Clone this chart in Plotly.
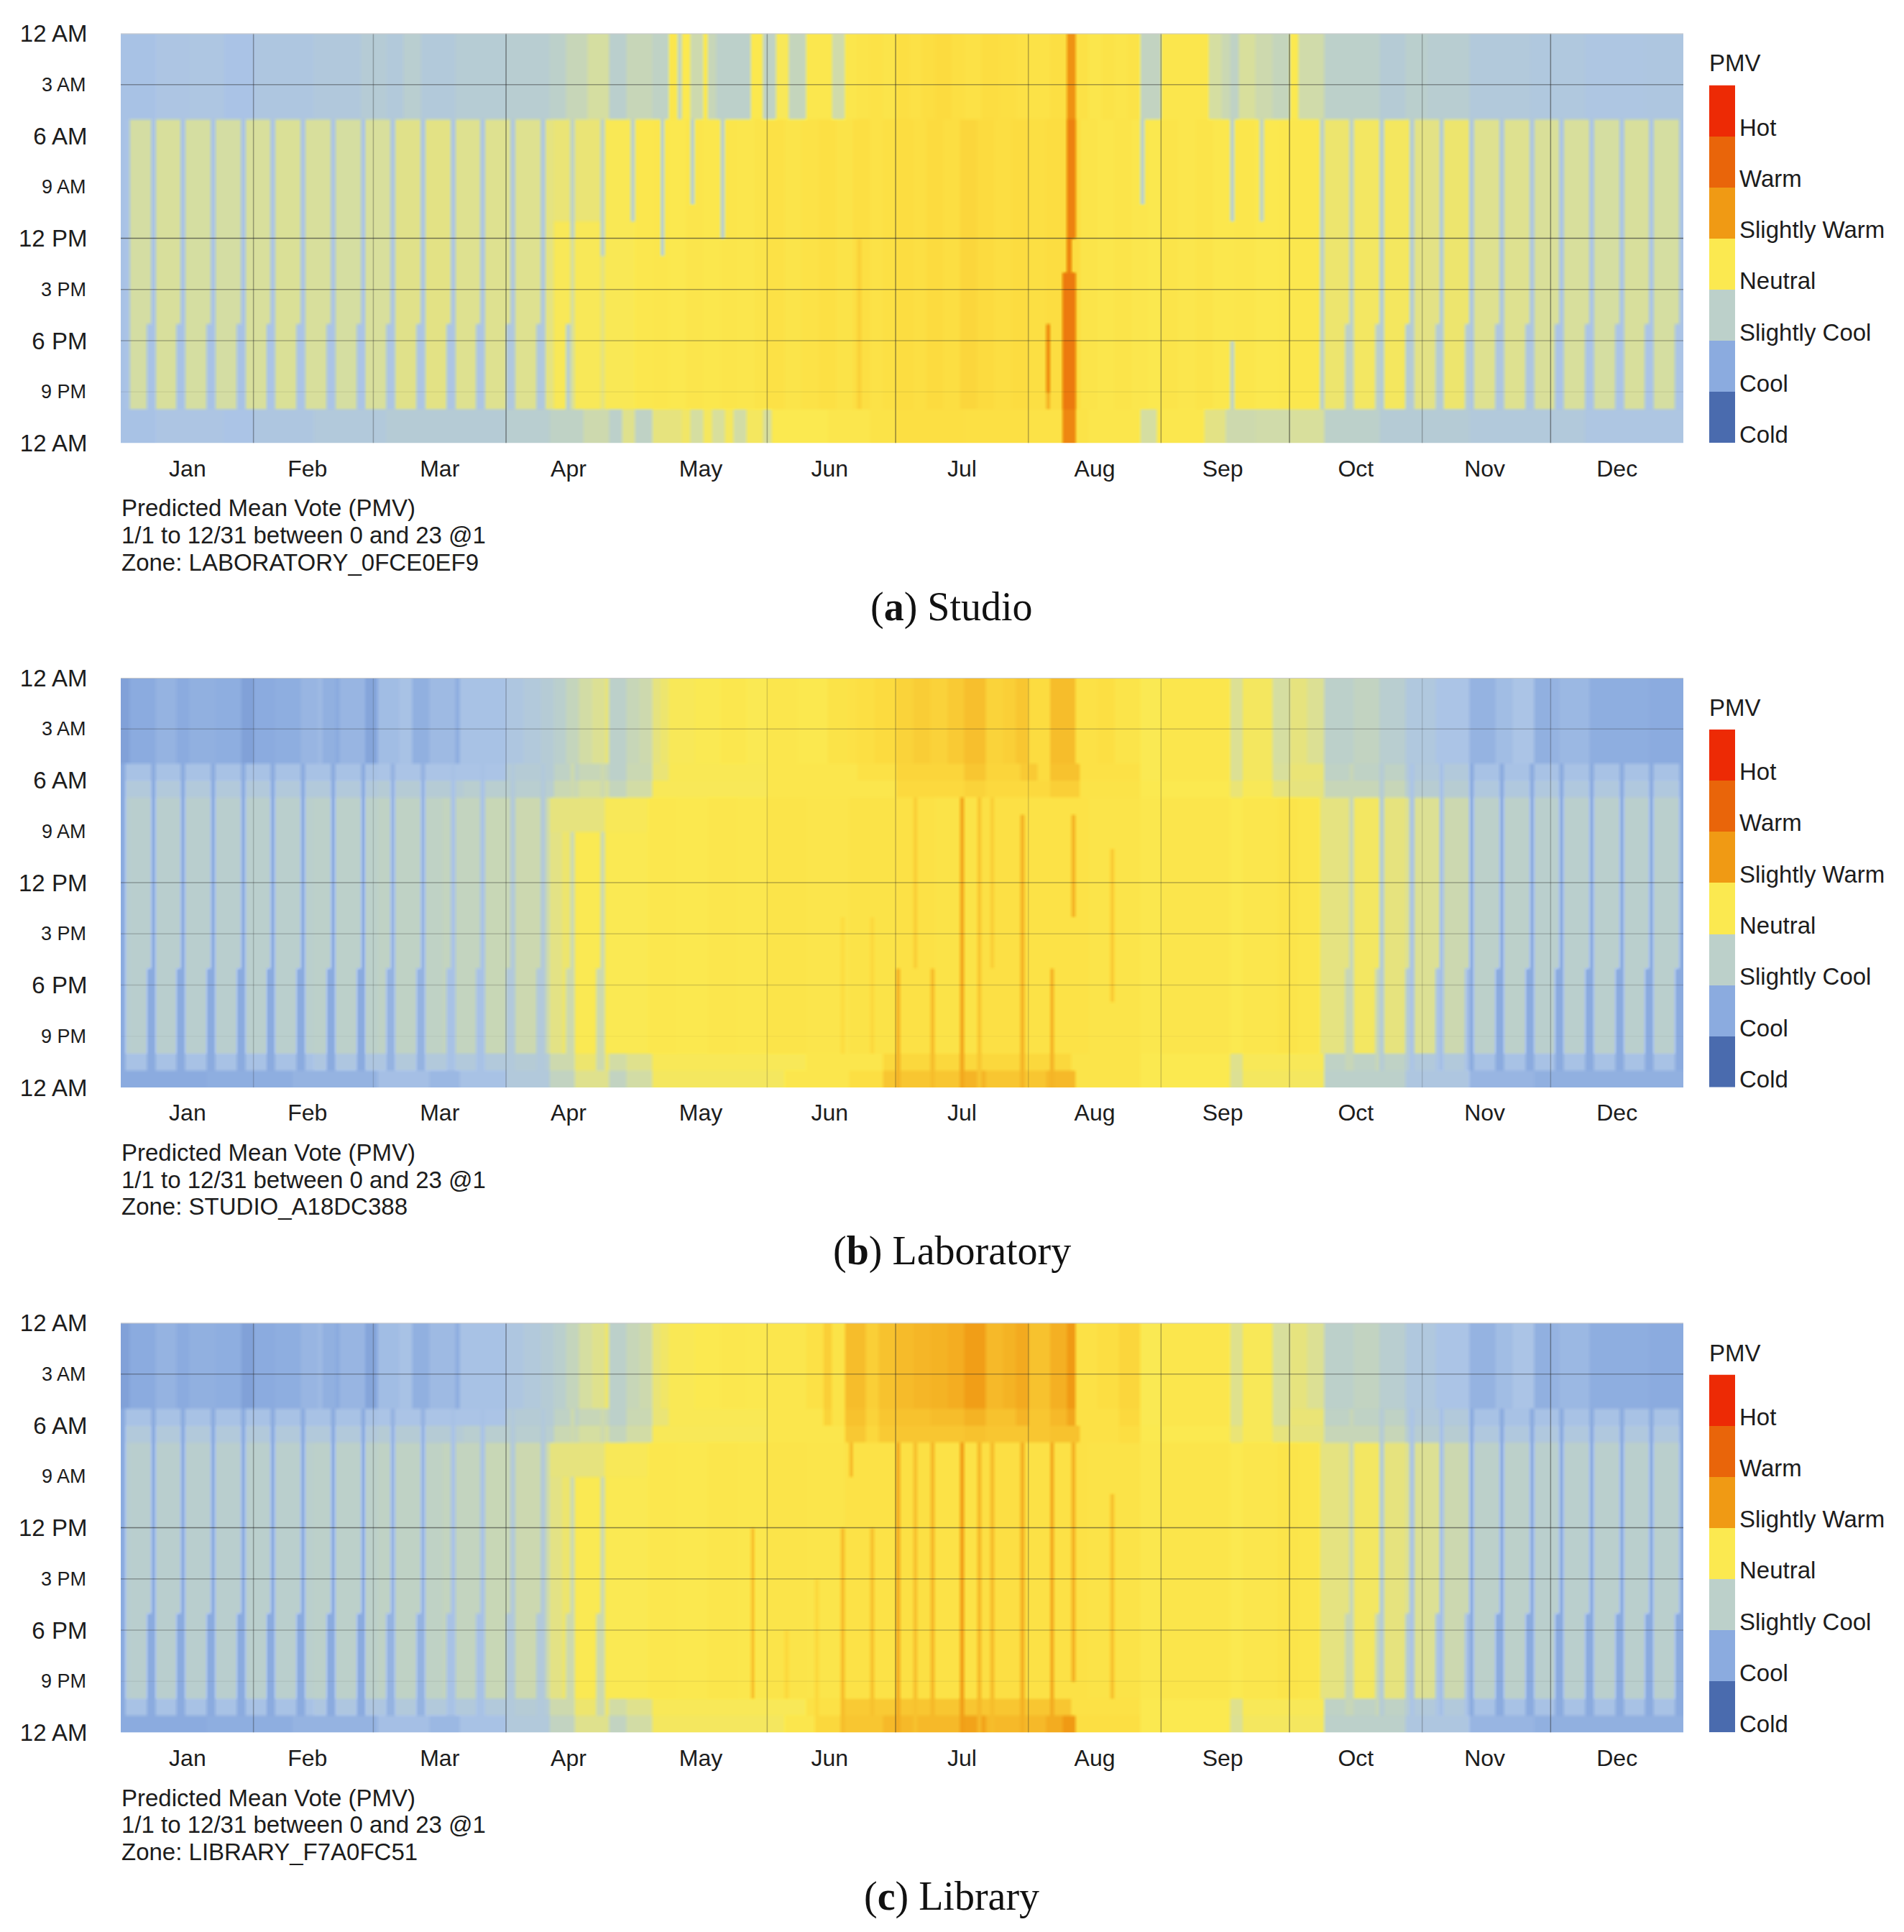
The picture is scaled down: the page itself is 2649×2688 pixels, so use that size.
import plotly.graph_objects as go

W, H = 2649, 2688
MONTHS = ["Jan","Feb","Mar","Apr","May","Jun","Jul","Aug","Sep","Oct","Nov","Dec"]
MONTH_MIDS = [15.6,43.6,74.5,104.6,135.5,165.6,196.5,227.5,257.4,288.5,318.6,349.5]
MONTH_LINES = [31,59,90,151,181,212,243,273,304,334]
MONTH_LINE_ALPHA = [.4,.3,.5,.35,.5,.35,.4,.55,.3,.5]
HOUR_TICKS = [0,6,12,18,24]
HOUR_LABELS = ["12 AM","6 AM","12 PM","6 PM","12 AM"]
SMALL_HOUR_TICKS = [3,9,15,21]
SMALL_HOUR_LABELS = ["3 AM","9 AM","3 PM","9 PM"]
HOUR_LINES = [3,12,15,18,21]
HOUR_LINE_ALPHA = [.42,.6,.4,.32,.08]
LEGEND_LABELS = ["Hot","Warm","Slightly Warm","Neutral","Slightly Cool","Cool","Cold"]
LEGEND_VALUES = [3,2,1,0,-1,-2,-3]
PANEL_ZONES = ["LABORATORY_0FCE0EF9","STUDIO_A18DC388","LIBRARY_F7A0FC51"]
PANEL_CAPTIONS = [("a","Studio"),("b","Laboratory"),("c","Library")]

# Each list: (first day of the run, PMV)
A_NIGHT = [(0,-1.55),(8,-1.45),(16,-1.42),(24,-1.52),(31,-1.4),(45,-1.32),(56,-1.2),(62,-1.28),(66,-1.1),(70,-1.28),(78,-1.18),(90,-1.12),(100,-1.0),(104,-.8),(109,-.55),(114,-1.05),(118,-.8),(124,-.95),(128,.05),(130,-.9),(131,0),(133,-.7),(136,.05),(137,-.8),(139,-1.0),(147,.02),(150,-.95),(153,-.05),(156,-.85),(160,.03),(166,-.65),(169,.06),(172,.1),(175,.14),(178,.09),(181,.2),(184,.16),(187,.22),(190,.26),(194,.2),(197,.16),(201,.24),(205,.2),(209,.16),(212,.14),(217,.2),(221,1.1),(223,.15),(226,.06),(229,.12),(232,.08),(235,.12),(238,-.9),(243,.05),(254,-.55),(257,-.75),(259,-.95),(261,-.5),(265,-.7),(269,-.85),(273,0),(275,-.65),(281,-1.0),(294,-1.2),(300,-1.05),(305,-1.12),(315,-1.3),(329,-1.35),(342,-1.42),(356,-1.4)]
A_DAY = [(0,-1.5),(2,-.58),(8,-.5),(15,-.55),(22,-.58),(29,-.5),(36,-.47),(43,-.5),(50,-.55),(57,-.5),(64,-.38),(71,-.35),(78,-.42),(85,-.42),(92,-.42),(99,-.32),(101,-.05),(113,-.03),(120,.03),(124,.05),(128,.02),(132,.07),(136,.04),(140,.08),(144,.05),(148,.1),(151,.16),(155,.1),(159,.14),(163,.18),(167,.12),(171,.2),(175,.14),(178,.18),(181,.24),(185,.2),(188,.26),(192,.22),(196,.32),(200,.26),(204,.22),(208,.25),(212,.2),(216,.24),(224,.1),(228,.06),(232,.1),(236,.05),(240,.02),(243,.09),(247,.05),(251,.1),(255,.04),(260,.06),(265,.02),(270,.03),(280,-.2),(288,-.12),(295,-.1),(301,-.35),(309,-.2),(316,-.42),(330,-.48),(337,-.5),(344,-.55),(351,-.5),(358,-.55)]
A_LATE = [(0,-1.55),(8,-1.45),(24,-1.5),(31,-1.4),(45,-1.3),(62,-1.2),(78,-1.2),(90,-1.1),(100,-.95),(108,-.7),(114,-1.0),(117,-.4),(120,-.95),(124,-.3),(131,-.15),(133,-.55),(136,-.1),(138,-.5),(141,-.1),(143,-.6),(146,-.1),(150,-.5),(152,0),(165,.05),(175,.12),(181,.2),(197,.18),(212,.14),(221,1.3),(223,.12),(226,.06),(238,-.55),(242,.03),(253,-.35),(258,-.7),(265,-.65),(273,-.5),(281,-1.0),(294,-1.2),(315,-1.3),(342,-1.42)]
A_OFF = [(0,-1.55),(30,-1.5),(60,-1.45),(85,-1.35),(100,-1.1),(105,None),(280,-1.0),(294,-1.2),(315,-1.4),(330,-1.5)]
A_SPIKES = [(101,113,5,11,-.25),(105,106,5,12,-.95),(105,106,12,22,-.5),(112,113,5,13,-.95),(112,113,13,22,-.3),(119,120,5,11,-1.0),(126,127,5,13,-1.0),(133,134,5,10,-1.0),(140,141,5,12,-1.0),(238,239,5,10,-1.0),(259,260,5,11,-1.0),(259,260,18,22,-.9),(266,267,5,11,-.9),(172,173,12,22,.38),(196,199,12,22,.32),(221,223,0,5,1.15),(221,223,5,12,1.45),(221,222,12,14,1.5),(220,223,14,22,1.6),(220,223,22,24,1.35),(216,217,17,21,1.2),(216,217,21,22,.7)]

B_NIGHT = [(0,-2.15),(2,-2.0),(8,-1.85),(13,-2.0),(16,-1.9),(22,-1.95),(28,-2.15),(31,-2.0),(36,-1.95),(42,-1.8),(46,-1.7),(47,-1.9),(50,-2.0),(51,-1.8),(57,-2.1),(60,-1.65),(65,-1.55),(68,-1.9),(72,-1.7),(78,-1.95),(79,-1.55),(90,-1.4),(94,-1.3),(98,-1.2),(101,-1.05),(104,-.85),(107,-.6),(110,-.45),(113,-.3),(114,-1.0),(118,-.8),(121,-.7),(124,-.3),(126,-.2),(128,-.05),(134,-.02),(140,.03),(146,-.02),(151,.05),(158,.02),(165,.12),(170,.16),(172,.2),(176,.26),(181,.35),(185,.42),(189,.36),(193,.46),(197,.58),(202,.35),(206,.4),(209,.5),(212,.25),(217,.6),(223,.15),(228,.2),(232,.1),(238,-.02),(243,.05),(259,-.45),(262,-.1),(269,-.55),(273,-.3),(277,-.45),(281,-1.0),(288,-.9),(294,-1.1),(300,-1.35),(307,-1.5),(315,-1.85),(321,-1.65),(325,-1.5),(330,-1.9),(334,-1.85),(336,-1.75),(343,-1.95),(357,-2.0)]
B_E1 = [(0,-1.55),(60,-1.5),(90,-1.2),(101,-.95),(107,-.8),(114,-1.0),(118,-.75),(124,-.25),(128,-.03),(151,.05),(172,.15),(181,.33),(197,.5),(202,.33),(210,.45),(214,.25),(217,.55),(224,.15),(238,-.02),(243,.05),(259,-.45),(262,-.1),(269,-.5),(273,-.25),(281,-.95),(300,-1.3),(315,-1.55)]
B_E2 = [(0,-1.3),(60,-1.2),(80,-1.1),(101,-.75),(107,-.55),(114,-.85),(118,-.6),(124,-.05),(151,.05),(181,.28),(197,.35),(202,.28),(217,.4),(224,.12),(238,0),(259,-.25),(262,-.05),(269,-.3),(281,-.8),(300,-1.15),(315,-1.35)]
B_DAY = [(0,-1.15),(2,-1.08),(30,-1.05),(45,-1.0),(60,-.95),(75,-.88),(85,-.78),(92,-.72),(100,-.35),(103,-.2),(106,-.02),(123,.03),(130,.01),(137,.05),(144,.03),(151,.1),(160,.07),(170,.12),(181,.16),(190,.12),(200,.17),(212,.14),(226,.1),(238,.03),(243,.07),(259,0),(262,.05),(270,.09),(275,.05),(280,-.32),(287,-.12),(294,-.3),(300,-.45),(308,-.72),(315,-1.0),(330,-1.05)]
B_L1 = [(0,-1.55),(45,-1.4),(62,-1.3),(90,-1.2),(100,-.7),(106,-.2),(114,-.6),(118,-.4),(124,-.05),(160,.05),(178,.3),(222,.1),(238,0),(259,-.4),(262,-.05),(281,-.95),(300,-1.3),(315,-1.55)]
B_L2 = [(0,-2.0),(20,-1.95),(40,-1.85),(60,-1.6),(72,-1.75),(79,-1.55),(90,-1.3),(100,-.9),(106,-.4),(114,-.9),(118,-.6),(124,-.1),(155,.05),(170,.2),(178,.5),(197,.7),(202,.5),(216,.65),(223,.1),(238,0),(259,-.45),(262,-.1),(281,-1.0),(300,-1.4),(315,-1.8),(330,-1.9)]
B_OFF = [(0,-2.0),(60,-1.85),(75,-1.55),(90,-1.3),(100,-.7),(115,None),(284,-.8),(294,-1.2),(301,-1.5),(308,-1.6),(315,-2.0)]
B_SPIKES = [(100,113,7,9,-.3),(113,123,7,9,-.05),(196,197,7,24,.85),(200,201,7,24,.5),(181,182,17,24,.7),(189,190,17,24,.6),(210,211,8,24,.7),(217,218,17,24,.7),(222,223,8,14,.7),(231,232,10,19,.45),(185,186,7,17,.4),(203,204,7,17,.4),(168,169,14,22,.25),(175,176,14,22,.3)]

C_NIGHT = [(0,-2.15),(2,-2.0),(8,-1.85),(13,-2.0),(16,-1.9),(22,-1.95),(28,-2.15),(31,-2.0),(36,-1.95),(42,-1.8),(46,-1.7),(47,-1.9),(50,-2.0),(51,-1.8),(57,-2.1),(60,-1.65),(65,-1.55),(68,-1.9),(72,-1.7),(78,-1.95),(79,-1.55),(90,-1.4),(94,-1.3),(98,-1.2),(101,-1.05),(104,-.85),(107,-.55),(110,-.4),(113,-.2),(114,-1.0),(118,-.8),(121,-.7),(124,-.25),(126,-.15),(128,-.03),(134,0),(140,.03),(146,.02),(151,.05),(160,.15),(164,.4),(166,.12),(169,.6),(174,.4),(177,.55),(181,.62),(185,.68),(189,.72),(193,.78),(197,.95),(202,.65),(206,.72),(209,.82),(212,.55),(217,.75),(221,1.0),(223,.15),(228,.22),(233,.32),(238,-.02),(243,.05),(259,-.4),(262,-.05),(269,-.5),(273,-.3),(277,-.45),(281,-1.0),(288,-.9),(294,-1.1),(300,-1.35),(307,-1.5),(315,-1.85),(321,-1.65),(325,-1.5),(330,-1.9),(334,-1.85),(336,-1.75),(343,-1.95),(357,-2.0)]
C_E1 = [(0,-1.55),(60,-1.5),(90,-1.2),(101,-.95),(107,-.8),(114,-1.0),(118,-.75),(124,-.25),(128,-.03),(151,.05),(164,.35),(166,.12),(169,.55),(174,.35),(177,.5),(181,.55),(189,.6),(197,.72),(202,.55),(209,.7),(212,.5),(217,.65),(221,.85),(223,.15),(233,.28),(238,-.02),(243,.05),(259,-.4),(262,-.05),(269,-.5),(273,-.25),(281,-.95),(300,-1.3),(315,-1.55)]
C_E2 = [(0,-1.3),(60,-1.2),(80,-1.1),(101,-.75),(107,-.55),(114,-.85),(118,-.6),(124,-.05),(151,.05),(169,.48),(174,.3),(177,.45),(181,.5),(197,.55),(202,.5),(217,.55),(224,.15),(233,.22),(238,0),(259,-.25),(262,-.05),(269,-.3),(281,-.8),(300,-1.15),(315,-1.35)]
C_DAY = [(0,-1.15),(2,-1.08),(30,-1.05),(45,-1.0),(60,-.95),(75,-.88),(85,-.78),(92,-.72),(100,-.35),(103,-.2),(106,-.02),(123,.03),(130,.02),(137,.06),(144,.04),(151,.1),(160,.08),(169,.14),(181,.18),(190,.14),(200,.19),(212,.15),(226,.12),(238,.03),(243,.08),(259,0),(262,.05),(270,.1),(275,.06),(280,-.32),(287,-.12),(294,-.3),(300,-.45),(308,-.72),(315,-1.0),(330,-1.05)]
C_L1 = [(0,-1.55),(45,-1.4),(62,-1.3),(90,-1.2),(100,-.7),(106,-.2),(114,-.6),(118,-.4),(124,-.05),(160,.15),(168,.45),(181,.5),(222,.15),(238,0),(259,-.4),(262,-.05),(281,-.95),(300,-1.3),(315,-1.55)]
C_L2 = [(0,-2.0),(20,-1.95),(40,-1.85),(60,-1.6),(72,-1.75),(79,-1.55),(90,-1.3),(100,-.9),(106,-.4),(114,-.9),(118,-.6),(124,-.1),(155,.05),(162,.3),(168,.5),(178,.65),(197,.9),(202,.65),(216,.8),(220,1.0),(223,.2),(238,0),(259,-.45),(262,-.1),(281,-1.0),(300,-1.4),(315,-1.8),(330,-1.9)]
C_OFF = [(0,-2.0),(60,-1.85),(75,-1.55),(90,-1.3),(100,-.7),(115,None),(284,-.8),(294,-1.2),(301,-1.5),(308,-1.6),(315,-2.0)]
C_SPIKES = [(100,113,7,9,-.3),(113,123,7,9,-.05),(147,148,12,22,.55),(168,169,12,24,.6),(175,176,12,23,.55),(170,171,7,9,.6),(181,182,7,24,.8),(185,186,7,24,.55),(189,190,7,24,.65),(196,197,7,24,.95),(200,201,7,24,.65),(203,204,7,24,.6),(210,211,7,24,.75),(217,218,7,24,.8),(222,223,7,21,.72),(231,232,10,22,.55),(162,163,15,24,.3),(155,156,18,22,.3)]

PANEL_BANDS = [
    [A_NIGHT]*5 + [A_DAY]*17 + [A_LATE]*2,
    [B_NIGHT]*5 + [B_E1, B_E2] + [B_DAY]*15 + [B_L1, B_L2],
    [C_NIGHT]*5 + [C_E1, C_E2] + [C_DAY]*15 + [C_L1, C_L2],
]
PANEL_OFF = [A_OFF, B_OFF, C_OFF]
PANEL_OFF_END = [22, 23, 23]
PANEL_SPIKES = [A_SPIKES, B_SPIKES, C_SPIKES]

COLORSCALE_KNOTS = [(-3,"#4A6BAE"),(-2,"#8BABDF"),(-1.5,"#ABC4E6"),(-1,"#BCD0CA"),(-.5,"#D8DF9C"),(0,"#FBE950"),(.25,"#FCDC40"),(1,"#F09A14"),(2,"#E9650A"),(3,"#ED2A05")]
COLORSCALE = [[(v+3)/6, c] for v, c in COLORSCALE_KNOTS]

def expand(runs):
    out = []
    for i, (start, val) in enumerate(runs):
        end = runs[i+1][0] if i+1 < len(runs) else 365
        out += [val]*(end-start)
    return out

def build(bands, off, off_end, spikes):
    off_days = expand(off)
    rows = [expand(b) for b in bands]
    for h in range(5, off_end):
        for d in range(365):
            if off_days[d] is None:
                continue
            if d % 7 == 0 or (d % 7 == 6 and h >= 17):
                rows[h][d] = off_days[d]
    for d0, d1, h0, h1, v in spikes:
        for h in range(h0, h1):
            for d in range(d0, d1):
                rows[h][d] = v
    # each hour is held over four picture rows so only the hour edges soften
    return [list(r) for r in rows for _ in range(4)]

X_L, X_R = 168, 2342
TOPS = [46.5, 943, 1840.5]
PLOT_H = 570
LEG_L, LEG_R = 2378, 2414
OFFS = [t-46.5 for t in TOPS]
def px(x): return x/W
def py(y): return 1-y/H

fig = go.Figure()
ann, shapes = [], []
layout = {}
ALPHA_SCALE = [1.0, .55, .9]
DAYS = [d+.5 for d in range(365)]
QUARTER_HOURS = [q/4+.125 for q in range(96)]
FONT = "Liberation Sans, Arial, sans-serif"
TXT = "#1c1c1c"
for p in range(3):
    n = p*2+1
    xa, ya = f"x{n}", f"y{n}"
    xl, yl = f"x{n+1}", f"y{n+1}"
    fig.add_trace(go.Heatmap(x=DAYS, y=QUARTER_HOURS, z=build(PANEL_BANDS[p], PANEL_OFF[p], PANEL_OFF_END[p], PANEL_SPIKES[p]),
                             colorscale=COLORSCALE, zmin=-3, zmax=3, showscale=False, hoverinfo="skip", zsmooth="best",
                             xaxis=xa, yaxis=ya))
    fig.add_trace(go.Heatmap(z=[[v] for v in LEGEND_VALUES], colorscale=COLORSCALE, zmin=-3, zmax=3,
                             showscale=False, hoverinfo="skip", xaxis=xl, yaxis=yl))
    t = TOPS[p]
    layout[f"xaxis{n}"] = dict(domain=[px(X_L), px(X_R)], range=[0,365], anchor=ya, tickvals=MONTH_MIDS, ticktext=MONTHS,
                               ticks="outside", ticklen=7, tickcolor="rgba(0,0,0,0)", showgrid=False, zeroline=False,
                               showline=False, automargin=False, tickfont=dict(family=FONT, size=32, color=TXT))
    layout[f"yaxis{n}"] = dict(domain=[py(t+PLOT_H), py(t)], range=[24,0], anchor=xa, tickvals=HOUR_TICKS, ticktext=HOUR_LABELS,
                               ticks="outside", ticklen=39, tickcolor="rgba(0,0,0,0)", showgrid=False, zeroline=False,
                               showline=False, automargin=False, tickfont=dict(family=FONT, size=33, color=TXT))
    o = OFFS[p]
    layout[f"xaxis{n+1}"] = dict(domain=[px(LEG_L), px(LEG_R)], anchor=yl, visible=False, automargin=False)
    layout[f"yaxis{n+1}"] = dict(domain=[py(616+o), py(118.5+o)], anchor=xl, visible=False, range=[6.5,-.5], automargin=False)
    for h, s in zip(SMALL_HOUR_TICKS, SMALL_HOUR_LABELS):
        ann.append(dict(text=s, xref="paper", yref=ya, x=px(122), y=h, xanchor="right", yanchor="middle",
                        showarrow=False, font=dict(family=FONT, size=27, color=TXT)))
    for x, a in zip(MONTH_LINES, MONTH_LINE_ALPHA):
        shapes.append(dict(type="line", xref=xa, yref=ya, x0=x, x1=x, y0=0, y1=24, layer="above",
                           line=dict(color=f"rgba(40,40,40,{a*ALPHA_SCALE[p]:.2f})", width=1.5)))
    for y, a in zip(HOUR_LINES, HOUR_LINE_ALPHA):
        shapes.append(dict(type="line", xref=xa, yref=ya, x0=0, x1=365, y0=y, y1=y, layer="above",
                           line=dict(color=f"rgba(40,40,40,{a*ALPHA_SCALE[p]:.2f})", width=1.5)))
    shapes.append(dict(type="line", xref=xa, yref=ya, x0=0, x1=365, y0=0, y1=0, layer="above",
                       line=dict(color="#c9c9c9", width=2)))
    for i, s in enumerate(["Predicted Mean Vote (PMV)", "1/1 to 12/31 between 0 and 23 @1", "Zone: "+PANEL_ZONES[p]]):
        ann.append(dict(text=s, xref="paper", yref="paper", x=px(167), y=py(707+o+i*37.5), xanchor="left", yanchor="middle",
                        showarrow=False, font=dict(family=FONT, size=33, color=TXT)))
    ann.append(dict(text=f"(<b>{PANEL_CAPTIONS[p][0]}</b>) {PANEL_CAPTIONS[p][1]}", xref="paper", yref="paper", x=px(1324), y=py(844+o),
                    xanchor="center", yanchor="middle", showarrow=False, font=dict(family="Liberation Serif, serif", size=56, color="#111")))
    ann.append(dict(text="PMV", xref="paper", yref="paper", x=px(2376), y=py(88+o), xanchor="left", yanchor="middle",
                    showarrow=False, font=dict(family=FONT, size=33, color=TXT)))
    for i, s in enumerate(LEGEND_LABELS):
        ann.append(dict(text=s, xref="paper", yref="paper", x=px(2418), y=py(177+o+i*71.3), xanchor="left", yanchor="middle",
                        showarrow=False, font=dict(family=FONT, size=33, color=TXT)))

fig.update_layout(width=W, height=H, margin=dict(l=0,r=0,t=0,b=0,pad=0), autosize=False, paper_bgcolor="white",
                  plot_bgcolor="white", showlegend=False, annotations=ann, shapes=shapes, **layout)
fig.write_html("out.html", config=dict(displayModeBar=False), post_script="document.body.style.margin='0';")
